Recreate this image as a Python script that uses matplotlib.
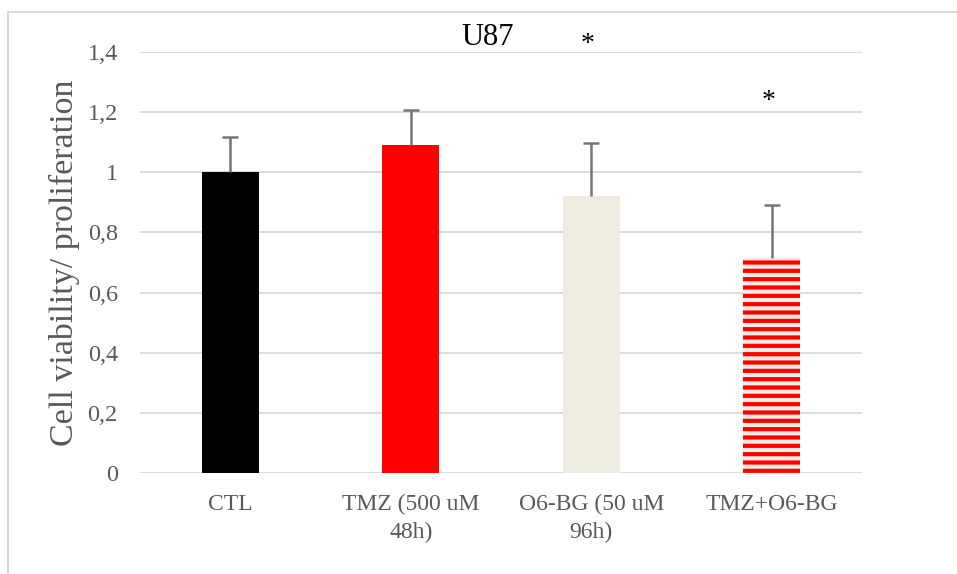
import matplotlib
matplotlib.use("Agg")
import matplotlib.pyplot as plt
from matplotlib.patches import Rectangle

plt.rcParams['font.family'] = ['Liberation Serif', 'DejaVu Serif']
plt.rcParams['hatch.linewidth'] = 3.0
plt.rcParams['hatch.color'] = '#ff0000'

categories = ["CTL", "TMZ (500 uM\n48h)", "O6-BG (50 uM\n96h)", "TMZ+O6-BG"]
values = [1.0, 1.09, 0.921, 0.715]
errors = [0.117, 0.117, 0.176, 0.176]
colors = ['#000000', '#ff0000', '#eeece1', '#eeece1']
hatches = [None, None, None, '--']
star_x = [2, 3]
star_y = [1.425, 1.234]
yticks = [0, 0.2, 0.4, 0.6, 0.8, 1.0, 1.2, 1.4]
yticklabels = ["0", "0,2", "0,4", "0,6", "0,8", "1", "1,2", "1,4"]

fig = plt.figure(figsize=(9.57, 5.74), dpi=100)
ax = fig.add_axes([140/957, 1 - 473/574, 722/957, 421/574])

grey = '#595959'
x = list(range(len(categories)))
bars = ax.bar(x, values, width=0.316, color=colors, zorder=2, linewidth=0)
for b, h in zip(bars, hatches):
    if h:
        b.set_hatch(h)
        b.set_edgecolor('#ff0000')
        b.set_linewidth(0)

tops = [v + e for v, e in zip(values, errors)]
ax.vlines(x, values, tops, color='#757575', linewidth=1.8, zorder=3)
ax.plot(x, tops, linestyle='none', marker='_', markersize=12,
        markeredgewidth=1.8, color='#757575', zorder=3)

for sx, sy in zip(star_x, star_y):
    ax.text(sx - 0.02, sy, '*', ha='center', va='center', fontsize=20, color='#000000')

ax.set_xlim(-0.5, 3.5)
ax.set_ylim(0, 1.4)
ax.set_yticks(yticks)
ax.set_yticklabels(yticklabels, fontsize=17.5, color=grey)
ax.set_xticks(x)
ax.set_xticklabels(categories, fontsize=17, color=grey, linespacing=1.45)
ax.tick_params(axis='both', length=0)
ax.tick_params(axis='y', pad=16)
ax.tick_params(axis='x', pad=15)
ax.grid(axis='y', color='#d9d9d9', linewidth=1.3, zorder=0)
ax.set_axisbelow(True)
for s in ax.spines.values():
    s.set_visible(False)

ax.set_ylabel("Cell viability/ proliferation", fontsize=24.5, color=grey, labelpad=5)
ax.set_title("U87", fontsize=22, color='#000000', x=0.482, pad=-2)

fig.patches.append(Rectangle((8/957, -0.1), 1.2, 1 - 12/574 + 0.1,
                             transform=fig.transFigure, fill=False,
                             edgecolor='#d9d9d9', linewidth=1.5, zorder=-1))

fig.savefig("out.png", dpi=100)
